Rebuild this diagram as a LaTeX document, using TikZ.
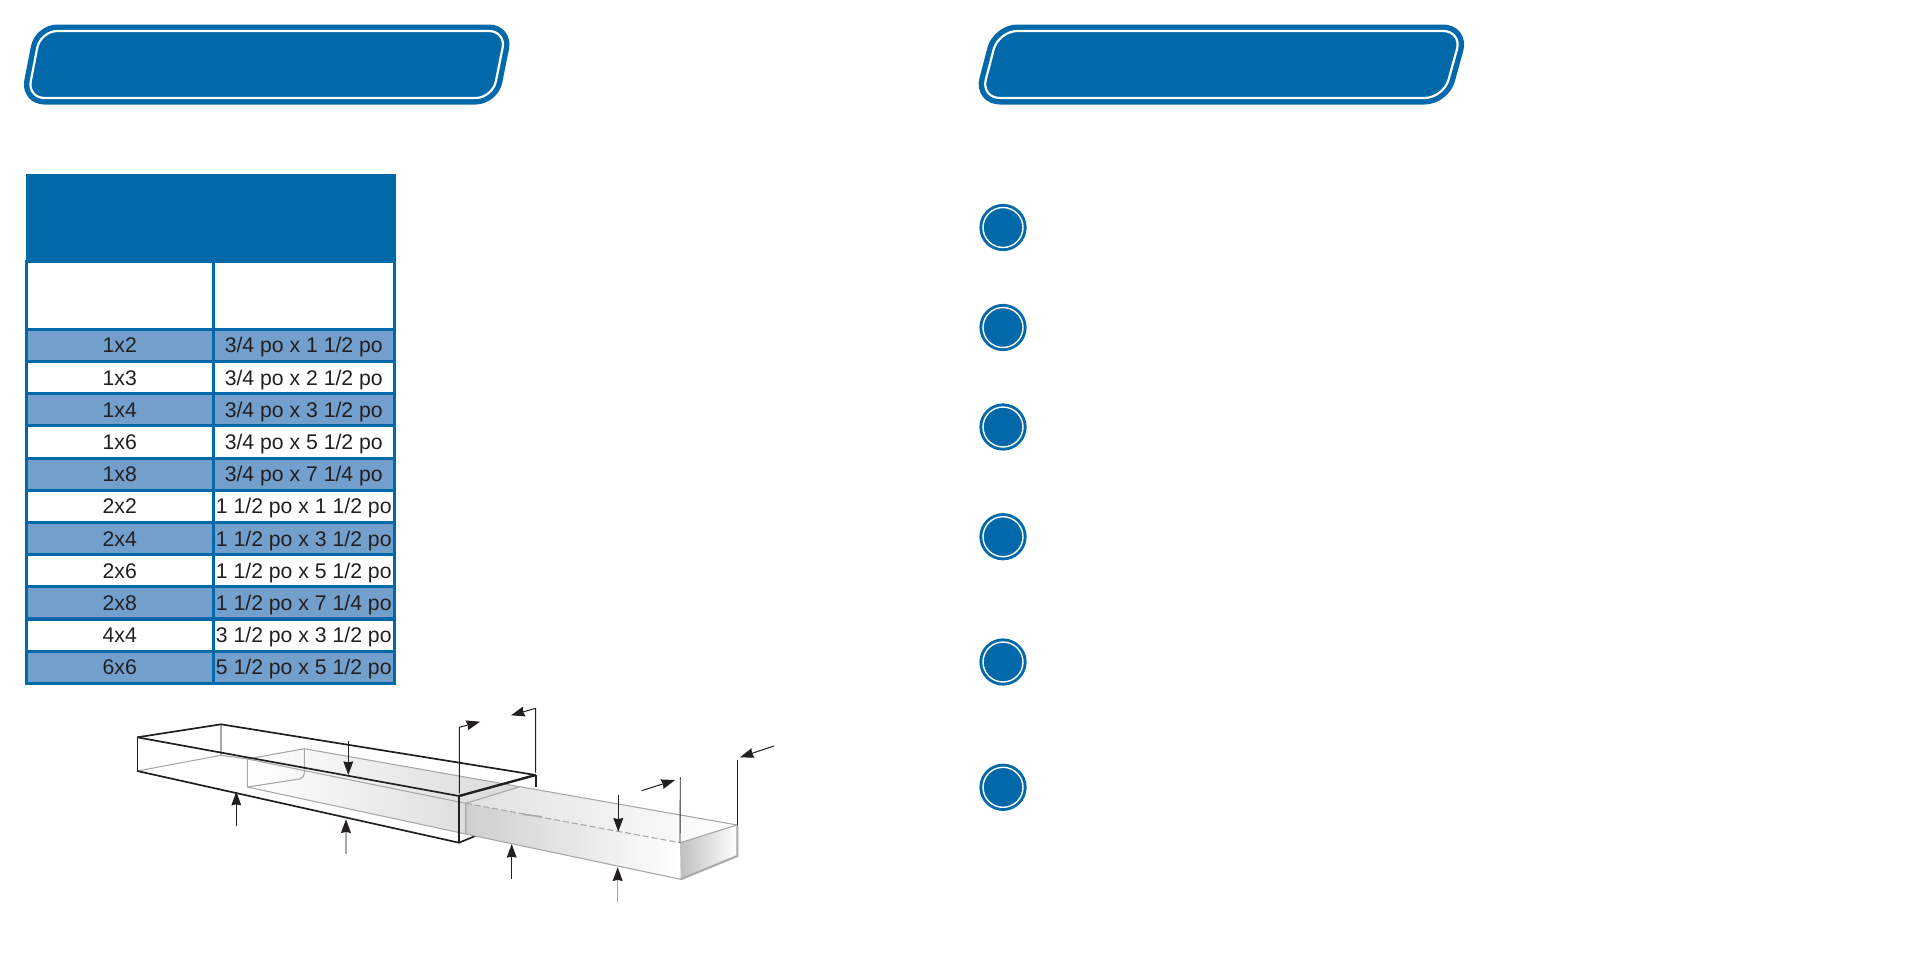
\documentclass[tikz,border=0pt]{standalone}
\usepackage{xcolor}
\usepackage{fontspec}
\setmainfont{Liberation Sans}
\usetikzlibrary{arrows.meta,positioning}

\definecolor{myblue}{HTML}{0169AA}
\definecolor{mylight}{HTML}{729FCC}
\definecolor{myink}{HTML}{231F20}
\definecolor{mygray}{HTML}{A9A9AB}

\tikzset{
    banner/.style={draw=myblue, fill=myblue, double=white, double distance=1.1pt, line width=2.7pt},
    stepdot/.style={circle, draw=myblue, fill=myblue, double=white, double distance=.7pt, line width=1.45pt, minimum size=20pt, inner sep=0pt},
    cell/.style={draw=myblue, line width=1.5pt, minimum height=16.09pt, inner sep=0pt, text=myink, text height=7.5pt, text depth=0pt, font=\fontsize{10.6}{12}\selectfont},
    lcell/.style={cell, minimum width=93.25pt},
    rcell/.style={cell, minimum width=90.75pt},
    shaded/.style={fill=mylight},
    thin box/.style={line width=.45pt, myink},
    thick box/.style={line width=.85pt, myink},
    inner box/.style={line width=.55pt, mygray},
    dim/.style={-{Stealth[length=6.8pt,width=4.9pt,inset=.5pt,color=myink]}, line width=.5pt, myink},
    graydim/.style={dim, mygray, line width=.7pt},
}

\begin{document}
\begin{tikzpicture}[x=0.5pt,y=-0.5pt]
        \useasboundingbox (0,0) rectangle (1908,954);

        % banners
        \draw[banner, rounded corners=8.5pt] (40.5,31) -- (506,31) -- (492.5,98) -- (27.5,98) -- cycle;
        \draw[banner, rounded corners=9.5pt] (998.5,31) -- (1462,31) -- (1443.5,98) -- (981,98) -- cycle;

        % table head
        \node[draw=myblue, fill=myblue, line width=1.5pt, minimum width=183.5pt, minimum height=43pt, inner sep=0pt] (head) at (210.5,218.5) {};
        \node[lcell, minimum height=33.9pt] (hl) at (119.75,295.4) {};
        \node[rcell, minimum height=33.9pt] (hr) at (303.75,295.4) {};
        \fill[myblue] (head.south west) rectangle (hr.north east);

        % table rows
        \node[lcell, shaded] (l1) at (119.75,345.4) {1x2};
        \node[rcell, shaded] (r1) at (303.75,345.4) {3/4 po x 1 1/2 po};
        \node[lcell] (l2) at (119.75,377.6) {1x3};
        \node[rcell] (r2) at (303.75,377.6) {3/4 po x 2 1/2 po};
        \node[lcell, shaded] (l3) at (119.75,409.8) {1x4};
        \node[rcell, shaded] (r3) at (303.75,409.8) {3/4 po x 3 1/2 po};
        \node[lcell] (l4) at (119.75,442) {1x6};
        \node[rcell] (r4) at (303.75,442) {3/4 po x 5 1/2 po};
        \node[lcell, shaded] (l5) at (119.75,474.1) {1x8};
        \node[rcell, shaded] (r5) at (303.75,474.1) {3/4 po x 7 1/4 po};
        \node[lcell] (l6) at (119.75,506.3) {2x2};
        \node[rcell] (r6) at (303.75,506.3) {1 1/2 po x 1 1/2 po};
        \node[lcell, shaded] (l7) at (119.75,538.5) {2x4};
        \node[rcell, shaded] (r7) at (303.75,538.5) {1 1/2 po x 3 1/2 po};
        \node[lcell] (l8) at (119.75,570.7) {2x6};
        \node[rcell] (r8) at (303.75,570.7) {1 1/2 po x 5 1/2 po};
        \node[lcell, shaded] (l9) at (119.75,602.9) {2x8};
        \node[rcell, shaded] (r9) at (303.75,602.9) {1 1/2 po x 7 1/4 po};
        \node[lcell] (l10) at (119.75,635.1) {4x4};
        \node[rcell] (r10) at (303.75,635.1) {3 1/2 po x 3 1/2 po};
        \node[lcell, shaded] (l11) at (119.75,667.3) {6x6};
        \node[rcell, shaded] (r11) at (303.75,667.3) {5 1/2 po x 5 1/2 po};

        % step circles
        \node[stepdot] (s1) at (1003,227.5) {};
        \node[stepdot] (s2) at (1003,327.5) {};
        \node[stepdot] (s3) at (1003,427) {};
        \node[stepdot] (s4) at (1003,536.7) {};
        \node[stepdot] (s5) at (1003,662) {};
        \node[stepdot] (s6) at (1003,787.3) {};

        % nominal size box
        \coordinate (nA) at (137.3,737.3);
        \coordinate (nB) at (221,724.3);
        \coordinate (nC) at (459,796);
        \coordinate (nD) at (535.7,775);
        \coordinate (nAb) at (137.3,771);
        \coordinate (nBb) at (221,755.3);
        \coordinate (nCb) at (459,842.7);
        \coordinate (nDb) at (535.7,787);
        \coordinate (nEb) at (476,835.7);

        % real size board
        \coordinate (aF) at (247.3,759);
        \coordinate (aB) at (304.3,748.7);
        \coordinate (aFb) at (247.3,787);
        \coordinate (aBb) at (304.3,778.3);
        \coordinate (aJ) at (465.7,803.3);
        \coordinate (aJb) at (465.7,834);
        \coordinate (aK) at (520,786.7);
        \coordinate (aC) at (680,842.7);
        \coordinate (aCb) at (680.7,879.3);
        \coordinate (aD) at (737.3,825);
        \coordinate (aDb) at (737.3,856);

        \draw[thin box, mygray, line width=.8pt] (nB) -- (nBb);
        \draw[inner box] (nAb) -- (nBb) -- (aF);
        \draw[thin box] (nA) -- (nAb);
        \draw[thick box] (nAb) -- (nCb) -- (nEb);
        \draw[thick box] (nD) -- (nDb);

        \shade[left color=white, right color=black!15] (aF) -- (aB) -- (aK) -- (aJ) -- cycle;
        \shade[left color=white, right color=black!13] (aF) -- (aJ) -- (aJb) -- (aFb) -- cycle;
        \draw[inner box, rounded corners=2.5pt] (aB) -- (aBb) -- (aFb);
        \draw[inner box] (aFb) -- (aF) -- (aB) -- (aK);
        \draw[inner box] (aF) -- (aJ);
        \draw[inner box] (aFb) -- (aJb);

        \draw[thick box] (nA) -- (nB) -- (nD);
        \draw[thick box] (nA) -- (nC);
        \draw[thick box, line width=1.2pt] (nC) -- (nD);
        \draw[thick box, line width=1pt] (nC) -- (nCb);

        \shade[left color=black!12, right color=white] (aJ) -- (aK) -- (aD) -- (aC) -- cycle;
        \shade[left color=black!19, right color=white] (aJ) -- (aC) -- (aCb) -- (aJb) -- cycle;
        \shade[left color=black!25, right color=white] (aC) -- (aD) -- (aDb) -- (aCb) -- cycle;
        \draw[inner box] (aJ) -- (aK) -- (aD);
        \draw[inner box, dash pattern=on 3pt off 1.5pt] (aJ) -- (aC);
        \draw[inner box] (aJ) -- (aJb) -- (aCb);
        \draw[inner box] (aC) -- (aD);
        \draw[inner box, line width=1pt] (aD) -- (aDb) -- (aCb);
        \draw[inner box, line width=.8pt] (522.7,814.3) -- (541.7,816.7);

        % dimension arrows
        \coordinate (t1) at (348.3,740.7);
        \coordinate (t2) at (348.3,775);
        \coordinate (t3) at (236.3,825.7);
        \coordinate (t4) at (236.3,791.7);
        \coordinate (t5) at (346,854);
        \coordinate (t6) at (346,819.3);
        \coordinate (t7) at (511.7,878.7);
        \coordinate (t8) at (511.7,844);
        \coordinate (t9) at (618.3,795);
        \coordinate (t10) at (618.3,831.7);
        \coordinate (t11) at (617.7,902.3);
        \coordinate (t12) at (617.7,867.3);
        \draw[dim] (t1) -- (t2);
        \draw[dim] (t3) -- (t4);
        \draw[graydim] (t5) -- (t6);
        \draw[dim] (t7) -- (t8);
        \draw[dim] (t9) -- (t10);
        \draw[graydim] (t11) -- (t12);

        \coordinate (w1) at (459.3,793.3);
        \coordinate (w2) at (459.3,727.3);
        \coordinate (w3) at (480,721.7);
        \coordinate (w4) at (535.7,772.7);
        \coordinate (w5) at (535.7,708.3);
        \coordinate (w6) at (511,715.3);
        \coordinate (w7) at (641.7,790.7);
        \coordinate (w8) at (675,780);
        \coordinate (w9) at (680.3,777.3);
        \coordinate (w10) at (774,746);
        \coordinate (w11) at (740,757.3);
        \coordinate (w12) at (737.3,760);
        \draw[dim] (w1) -- (w2) -- (w3);
        \draw[dim] (w4) -- (w5) -- (w6);
        \draw[dim] (w7) -- (w8);
        \draw[thin box] (w9) -- (aC);
        \draw[dim] (w10) -- (w11);
        \draw[thin box] (w12) -- (aD);

    \end{tikzpicture}
\end{document}
